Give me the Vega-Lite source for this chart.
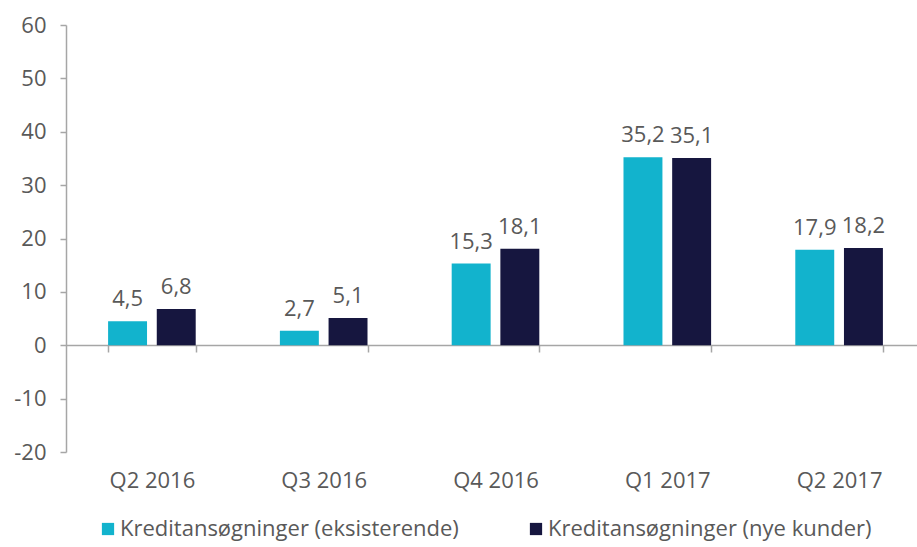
{
  "$schema": "https://vega.github.io/schema/vega-lite/v6.json",
  "autosize": "none",
  "width": 859,
  "height": 427,
  "padding": {"left": 66, "top": 25, "right": 0, "bottom": 95},
  "config": {
    "view": {"stroke": null},
    "locale": {"number": {"decimal": ",", "thousands": ".", "grouping": [3], "currency": ["", " kr"], "minus": "-"}},
    "font": "Open Sans"
  },
  "data": {"values": [
    {"q": "Q2 2016", "s": "Kreditansøgninger (eksisterende)", "v": 4.5},
    {"q": "Q2 2016", "s": "Kreditansøgninger (nye kunder)", "v": 6.8},
    {"q": "Q3 2016", "s": "Kreditansøgninger (eksisterende)", "v": 2.7},
    {"q": "Q3 2016", "s": "Kreditansøgninger (nye kunder)", "v": 5.1},
    {"q": "Q4 2016", "s": "Kreditansøgninger (eksisterende)", "v": 15.3},
    {"q": "Q4 2016", "s": "Kreditansøgninger (nye kunder)", "v": 18.1},
    {"q": "Q1 2017", "s": "Kreditansøgninger (eksisterende)", "v": 35.2},
    {"q": "Q1 2017", "s": "Kreditansøgninger (nye kunder)", "v": 35.1},
    {"q": "Q2 2017", "s": "Kreditansøgninger (eksisterende)", "v": 17.9},
    {"q": "Q2 2017", "s": "Kreditansøgninger (nye kunder)", "v": 18.2}
  ]},
  "encoding": {
    "x": {"field": "q", "type": "nominal", "sort": null,
      "scale": {"paddingInner": 0.49, "paddingOuter": 0.245},
      "axis": {"title": null, "offset": -107, "domainColor": "#A6A6A6", "domainWidth": 1.5, "tickColor": "#A6A6A6", "tickWidth": 1.5, "tickSize": 7, "tickBand": "extent", "labelAngle": 0, "labelPadding": 118, "labelFontSize": 22, "labelColor": "#595959", "labelFont": "Open Sans"}},
    "xOffset": {"field": "s", "type": "nominal", "scale": {"paddingInner": 0.2}},
    "y": {"field": "v", "type": "quantitative",
      "scale": {"domain": [-20, 60], "nice": false},
      "axis": {"title": null, "values": [-20, -10, 0, 10, 20, 30, 40, 50, 60], "grid": false, "domainColor": "#A6A6A6", "domainWidth": 1.5, "tickColor": "#A6A6A6", "tickWidth": 1.5, "tickSize": 6, "labelFontSize": 22, "labelColor": "#595959", "labelPadding": 14, "labelFont": "Open Sans"}}
  },
  "layer": [
    {"mark": {"type": "bar"},
     "encoding": {"color": {"field": "s", "type": "nominal",
       "scale": {"range": ["#12B3CD", "#16163F"]},
       "legend": {"title": null, "orient": "none", "legendX": 31, "legendY": 493, "direction": "horizontal", "symbolType": "square", "symbolSize": 150, "symbolStrokeWidth": 0, "labelFontSize": 22, "labelColor": "#595959", "labelFont": "Open Sans", "labelLimit": 500, "columnPadding": 66, "labelOffset": 1}}}},
    {"mark": {"type": "text", "baseline": "bottom", "dy": -10, "fontSize": 22, "color": "#595959", "font": "Open Sans"},
     "encoding": {"text": {"field": "v", "type": "quantitative", "format": ".1f"}}}
  ]
}
